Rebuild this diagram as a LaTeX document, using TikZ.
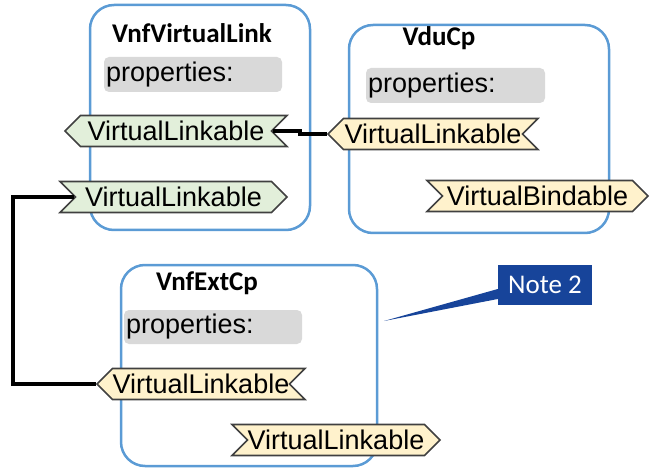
\documentclass[tikz,border=0pt]{standalone}
\usepackage{fontspec}
\setmainfont{Liberation Sans}
\newfontfamily\calibri{Carlito}
\usetikzlibrary{shapes.symbols}
\definecolor{boxblue}{HTML}{5B9BD5}
\definecolor{propgray}{HTML}{D9D9D9}
\definecolor{portgreen}{HTML}{E2EFDA}
\definecolor{portyellow}{HTML}{FFF2CC}
\definecolor{portedge}{HTML}{404040}
\definecolor{noteblue}{HTML}{17449A}
\begin{document}
\begin{tikzpicture}[x=1pt,y=-1pt,
  classbox/.style={draw=boxblue, line width=2.5pt, rounded corners=24pt},
  classtitle/.style={font=\calibri\bfseries\fontsize{27}{32}\selectfont, inner sep=0pt},
  propbox/.style={fill=propgray, rounded corners=5pt, inner xsep=2pt, inner ysep=0pt,
    align=left, font=\fontsize{27}{32}\selectfont},
  port/.style={signal, draw=portedge, line width=1.6pt, minimum height=31pt,
    inner sep=0pt, signal pointer angle=90, font=\fontsize{27}{32}\selectfont},
  portleft/.style={port, signal to=west, signal from=east},
  portright/.style={port, signal to=east, signal from=west},
  link/.style={draw=black, line width=3.3pt}
]
\useasboundingbox (0,0) rectangle (654,468);

% class boxes
\draw[classbox] (90,5) rectangle (310,230);
\draw[classbox] (349,25) rectangle (609,233);
\draw[classbox] (121,265) rectangle (377,466);

% titles
\node[classtitle] (t1) at (192,33) {VnfVirtualLink};
\node[classtitle] (t2) at (439,38) {VduCp};
\node[classtitle] (t3) at (207,283) {VnfExtCp};

% property blocks
\node[propbox, text width=174pt, minimum height=35pt] (pr1) at (193,74.5) {properties:};
\node[propbox, text width=175pt, minimum height=35pt] (pr2) at (455.5,85.5) {properties:};
\node[propbox, text width=174pt, minimum height=34pt] (pr3) at (213,327) {properties:};

% requirement / capability ports
\node[portleft, fill=portgreen, minimum width=222pt] (p1) at (176,131) {VirtualLinkable};
\node[portright, fill=portgreen, minimum width=227pt] (p2) at (173.5,197) {VirtualLinkable};
\node[portleft, fill=portyellow, minimum width=210pt] (p3) at (433,134) {VirtualLinkable};
\node[portright, fill=portyellow, minimum width=221pt] (p4) at (537.5,196) {VirtualBindable};
\node[portleft, fill=portyellow, minimum width=208pt] (p5) at (201,384) {VirtualLinkable};
\node[portright, fill=portyellow, minimum width=208pt] (p6) at (336,440) {VirtualLinkable};

% connectors
\coordinate (step) at (300,0);
\draw[link] (p3.west) -- (p3.west -| step) -- (p1.east -| step) -- (p1.east);
\coordinate (rail) at (13,0);
\draw[link] (p2.west) -- (p2.west -| rail) -- (p5.west -| rail) -- (p5.west);

% note callout
\node[fill=noteblue, text=white, minimum width=94pt, minimum height=40pt, inner sep=0pt,
  font=\calibri\fontsize{27}{32}\selectfont] (note) at (545,285) {Note 2};
\coordinate (notetip) at (384,321);
\fill[noteblue] ([yshift=-4pt]note.west) -- (notetip) -- ([yshift=-14pt]note.west) -- cycle;
\end{tikzpicture}
\end{document}
